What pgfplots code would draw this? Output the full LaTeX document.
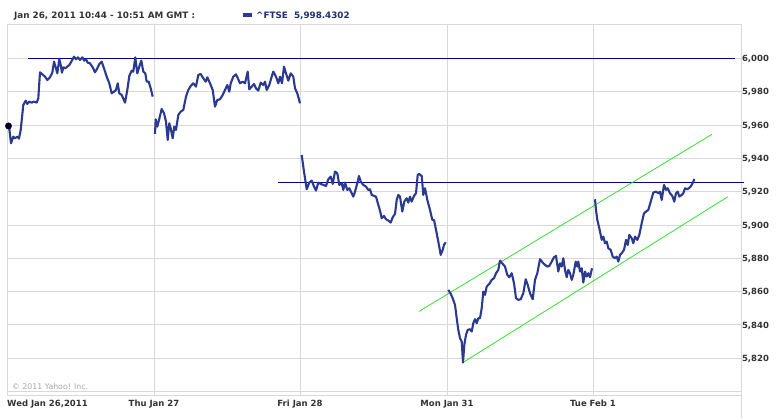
\documentclass[border=0pt]{standalone}
\usepackage{fontspec}
\setmainfont{DejaVu Sans}
\usepackage{pgfplots}
\pgfplotsset{compat=1.18}
\definecolor{ftse}{HTML}{2B3990}
\definecolor{navyline}{HTML}{00008B}
\definecolor{chan}{HTML}{33DD33}
\definecolor{gridc}{HTML}{D8D8D8}
\definecolor{labc}{HTML}{333333}
\newcommand{\labfont}{\fontsize{8.5}{10}\selectfont\bfseries}
\newcommand{\headfont}{\fontsize{8.8}{10}\selectfont\bfseries}

\begin{document}
\begin{tikzpicture}
\useasboundingbox (-8pt,-22.5pt) rectangle (775pt,395.5pt);
\begin{axis}[
    scale only axis,
    width=733pt, height=370.5pt,
    xmin=8, xmax=741,
    ymin=5797.6, ymax=6020,
    axis line style={gridc, line width=1pt},
    major tick length=0pt,
    grid=major,
    grid style={gridc, line width=0.8pt},
    xtick={154,300,447,593},
    xticklabels={Thu Jan 27, Fri Jan 28, Mon Jan 31, Tue Feb 1},
    xticklabel style={font=\labfont, text=labc, anchor=base, yshift=-11.2pt},
    ytick={5800,5820,...,6000},
    yticklabels={{},{5,820},{5,840},{5,860},{5,880},{5,900},{5,920},{5,940},{5,960},{5,980},{6,000}},
    yticklabel pos=right,
    yticklabel style={font=\labfont, text=labc, anchor=base west, xshift=-2.5pt, yshift=-3.2pt},
    clip=false,
    price/.style={ftse, line width=2.1pt, line join=round},
  ]

  % horizontal levels
  \addplot[navyline, line width=1pt] coordinates {(28,6000) (735,6000)};
  \addplot[navyline, line width=1pt] coordinates {(278,5925.7) (744,5925.7)};

  % trend channel
  \addplot[chan, line width=0.8pt] coordinates {(419,5848.1) (712,5954.4)};
  \addplot[chan, line width=0.8pt] coordinates {(463,5817.4) (728,5917.0)};

  % Wed Jan 26
  \addplot[price] coordinates {
    (9.0,5959.4) (11.0,5949.0) (13.3,5953.0) (15.0,5952.0) (17.3,5953.0) (19.0,5951.8)
    (20.7,5957.0) (23.3,5972.0) (25.7,5974.6) (27.3,5972.6) (29.3,5974.0) (31.7,5973.4)
    (34.0,5974.0) (36.7,5973.4) (38.3,5976.0) (40.0,5991.6) (42.3,5990.4) (45.0,5989.0)
    (47.3,5987.0) (50.0,5988.6) (52.3,5991.4) (54.0,5998.0) (56.0,5994.0) (57.3,5991.0)
    (59.3,5999.6) (60.7,5996.0) (62.0,5991.4) (63.3,5994.6) (65.3,5994.0) (67.3,5995.0)
    (69.3,5996.0) (71.7,5998.4) (74.0,6001.0) (76.0,5999.4) (78.0,6000.6) (80.0,5999.0)
    (82.3,6000.6) (84.3,5998.6) (86.0,5999.4) (87.7,5997.4) (90.0,5997.0) (92.7,5994.6)
    (95.0,5991.6) (97.3,5994.0) (99.3,5996.6) (101.7,5998.0) (104.0,5994.0) (106.7,5989.0)
    (109.3,5985.0) (111.7,5979.0) (114.0,5980.0) (116.0,5981.0) (117.7,5985.0) (119.3,5979.0)
    (121.7,5978.0) (125.0,5973.4) (127.3,5981.0) (129.3,5989.4) (131.7,5992.6) (133.3,5992.0)
    (135.3,6000.6) (137.3,5991.0) (139.3,5995.0) (141.3,5998.6) (143.3,5992.0) (145.3,5991.0)
    (146.7,5986.0) (148.7,5986.0) (150.7,5982.0) (152.7,5977.0)
  };
  % Thu Jan 27
  \addplot[price] coordinates {
    (155.0,5954.6) (155.7,5963.4) (157.3,5959.0) (159.0,5963.0) (161.7,5969.6) (164.0,5967.0)
    (166.0,5962.0) (167.7,5951.0) (169.3,5961.0) (170.7,5958.0) (172.7,5952.0) (174.3,5959.0)
    (176.0,5957.0) (178.3,5966.0) (180.7,5968.0) (183.3,5969.0) (186.0,5977.0) (188.3,5981.0)
    (190.7,5983.4) (193.3,5985.0) (196.0,5983.0) (198.3,5990.0) (200.7,5990.6) (203.3,5988.0)
    (205.7,5986.0) (207.3,5988.6) (210.0,5985.0) (212.7,5981.0) (215.0,5971.0) (217.3,5975.0)
    (220.0,5975.4) (222.7,5978.0) (225.0,5981.0) (227.3,5984.0) (229.3,5980.0) (230.7,5985.0)
    (233.3,5989.0) (236.0,5990.4) (238.3,5987.4) (240.0,5985.0) (242.7,5986.0) (245.0,5985.0)
    (247.7,5992.0) (249.3,5981.4) (251.7,5983.0) (254.0,5984.6) (256.0,5982.0) (258.3,5980.6)
    (260.7,5985.4) (263.3,5984.0) (265.0,5986.0) (266.7,5981.0) (269.3,5984.0) (271.7,5989.0)
    (273.3,5992.0) (276.0,5989.0) (278.3,5985.0) (280.0,5989.0) (282.0,5985.0) (284.0,5995.0)
    (286.0,5991.0) (288.3,5986.6) (290.7,5991.0) (293.3,5989.0) (295.0,5982.0) (297.3,5979.0)
    (300.0,5973.0)
  };
  % Fri Jan 28
  \addplot[price] coordinates {
    (301.7,5942.0) (304.0,5932.0) (306.7,5921.4) (309.3,5925.4) (311.7,5926.6) (314.0,5923.0)
    (316.0,5920.6) (318.3,5925.4) (320.7,5924.6) (323.3,5924.0) (326.0,5923.4) (328.3,5927.4)
    (330.7,5929.0) (332.7,5924.6) (335.0,5932.0) (337.3,5931.0) (339.3,5924.0) (341.7,5925.0)
    (343.3,5921.0) (345.0,5925.4) (347.3,5921.0) (349.3,5922.0) (351.7,5919.0) (353.3,5917.0)
    (355.0,5920.0) (357.3,5925.0) (359.0,5929.4) (360.7,5926.0) (363.3,5924.0) (366.0,5923.0)
    (368.3,5921.0) (370.0,5921.4) (371.7,5918.0) (374.0,5917.4) (376.0,5917.0) (378.3,5912.0)
    (380.0,5908.6) (381.7,5904.0) (384.0,5905.4) (386.0,5903.4) (388.3,5902.6) (390.7,5901.4)
    (392.7,5904.6) (395.0,5906.6) (396.7,5915.0) (398.3,5918.0) (400.0,5917.0) (402.3,5908.0)
    (404.3,5914.0) (406.7,5916.0) (408.3,5913.4) (410.0,5917.0) (411.7,5914.0) (414.0,5917.4)
    (416.0,5919.0) (417.7,5930.0) (419.0,5930.6) (421.7,5929.4) (423.3,5918.0) (425.0,5922.0)
    (427.3,5915.0) (430.0,5909.0) (432.3,5903.0) (434.0,5903.0) (435.7,5898.0) (438.3,5890.0)
    (440.7,5882.0) (442.7,5885.0) (444.0,5888.0) (445.7,5889.6)
  };
  % Mon Jan 31
  \addplot[price] coordinates {
    (448.3,5861.0) (450.7,5858.6) (452.7,5856.0) (455.0,5852.0) (456.7,5844.0) (458.3,5837.0)
    (460.0,5832.0) (461.7,5830.0) (463.0,5817.4) (464.3,5828.0) (466.0,5834.0) (467.7,5837.0)
    (470.0,5837.4) (471.7,5836.0) (473.3,5841.0) (475.0,5843.4) (476.7,5841.0) (478.3,5844.0)
    (480.0,5844.0) (481.7,5850.0) (483.3,5860.0) (485.0,5858.0) (486.7,5863.0) (489.3,5864.6)
    (491.7,5867.0) (494.0,5868.0) (496.0,5871.0) (498.3,5873.0) (500.0,5878.6) (502.7,5876.6)
    (505.0,5875.0) (507.3,5870.0) (509.3,5868.6) (511.7,5871.0) (514.0,5865.0) (516.0,5856.0)
    (518.3,5855.0) (520.7,5855.4) (523.3,5859.0) (525.7,5867.4) (527.7,5864.0) (530.0,5859.0)
    (532.7,5855.4) (535.0,5867.0) (537.3,5871.0) (540.0,5879.4) (542.7,5877.4) (545.0,5876.0)
    (547.3,5875.0) (549.3,5875.4) (551.7,5878.0) (554.0,5880.6) (556.0,5881.4) (558.3,5872.0)
    (560.0,5877.0) (561.7,5875.0) (563.3,5880.0) (565.0,5873.0) (566.7,5868.6) (568.3,5873.0)
    (570.0,5871.0) (571.7,5867.0) (573.3,5870.0) (575.7,5878.0) (577.3,5875.0) (578.3,5878.0)
    (580.0,5872.0) (581.7,5874.0) (583.3,5865.4) (585.0,5872.0) (586.7,5869.0) (588.3,5871.0)
    (590.0,5868.6) (592.0,5874.0)
  };
  % Tue Feb 1
  \addplot[price] coordinates {
    (595.0,5915.4) (596.0,5909.0) (597.3,5903.0) (599.3,5898.0) (600.7,5894.0) (601.7,5891.0)
    (603.3,5893.0) (605.0,5889.0) (606.7,5890.0) (608.3,5886.0) (610.7,5885.0) (612.7,5881.0)
    (615.0,5880.0) (616.7,5881.0) (618.3,5878.0) (620.0,5882.0) (621.7,5883.0) (624.0,5885.0)
    (626.0,5891.0) (627.7,5888.0) (629.3,5894.0) (631.7,5892.0) (633.3,5889.0) (635.0,5893.0)
    (637.3,5891.0) (639.3,5894.0) (641.7,5901.0) (644.0,5907.0) (646.0,5908.0) (648.3,5909.0)
    (650.7,5914.0) (653.3,5919.4) (656.0,5920.0) (658.3,5919.0) (660.0,5920.0) (661.7,5915.0)
    (664.0,5924.0) (666.0,5921.0) (667.7,5922.0) (670.0,5919.0) (672.3,5917.4) (674.3,5914.0)
    (676.0,5919.0) (677.7,5920.0) (679.3,5917.0) (681.7,5918.0) (683.3,5919.0) (685.0,5922.0)
    (687.3,5921.4) (690.0,5922.6) (691.7,5924.0) (693.3,5926.0) (694.3,5927.6)
  };
  % opening marker
  \addplot[only marks, mark=*, mark size=3.2pt, black!85!blue] coordinates {(8.5,5959.4)};
\end{axis}

% header and footer texts
\draw[gridc, line width=0.8pt] (733pt,0pt) -- (733pt,-22.5pt);
\node[anchor=base west, inner sep=0pt, font=\headfont, text=labc] at (6pt,377.2pt)
  {Jan 26, 2011 10:44 - 10:51 AM GMT :};
\fill[ftse] (235pt,378.3pt) rectangle (244pt,382.2pt);
\node[anchor=base west, inner sep=0pt, font=\headfont, text=ftse!80!black] at (248pt,377.2pt)
  {\textasciicircum FTSE\ \ 5,998.4302};
\node[anchor=base west, inner sep=0pt, font=\labfont, text=labc] at (-1pt,-11.2pt)
  {Wed Jan 26,2011};
\node[anchor=base west, inner sep=0pt, font=\fontsize{7.8}{9}\selectfont, text=black!35] at (4pt,6.5pt)
  {© 2011 Yahoo! Inc.};
\end{tikzpicture}
\end{document}
